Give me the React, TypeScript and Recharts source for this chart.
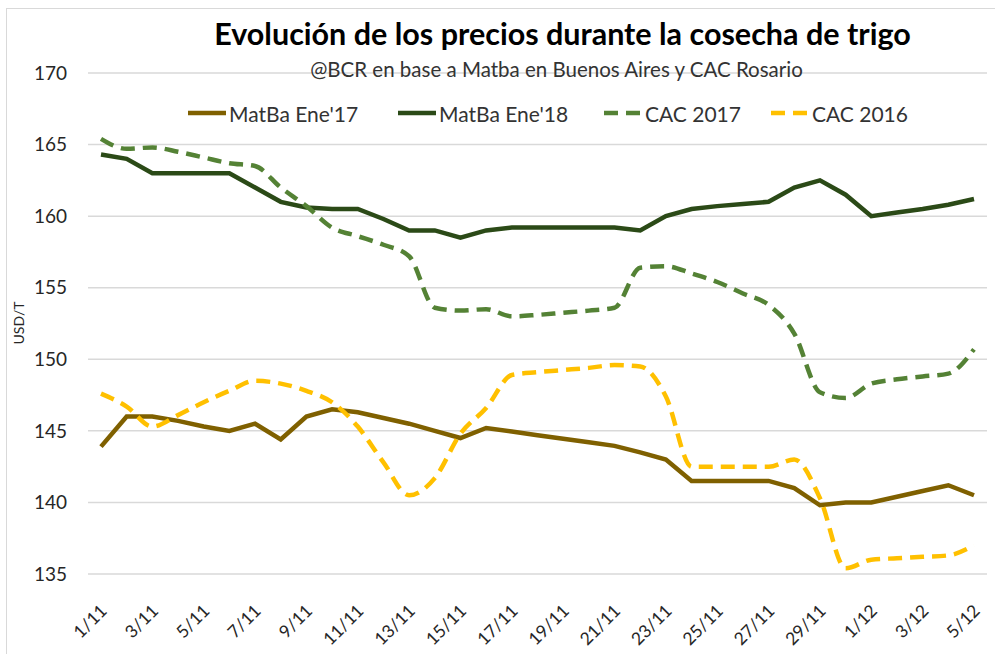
import React from 'react';
import { LineChart, Line, XAxis, YAxis, CartesianGrid } from 'recharts';

// Daily categories 1/11 .. 5/12
const dates = [
  '1/11', '2/11', '3/11', '4/11', '5/11', '6/11', '7/11', '8/11', '9/11', '10/11',
  '11/11', '12/11', '13/11', '14/11', '15/11', '16/11', '17/11', '18/11', '19/11', '20/11',
  '21/11', '22/11', '23/11', '24/11', '25/11', '26/11', '27/11', '28/11', '29/11', '30/11',
  '1/12', '2/12', '3/12', '4/12', '5/12',
];

const matbaEne17 = [
  143.9, 146.0, 146.0, 145.7, 145.3, 145.0, 145.5, 144.4, 146.0, 146.5,
  146.3, 145.9, 145.5, 145.0, 144.5, 145.2, 144.95, 144.7, 144.45, 144.2,
  143.95, 143.5, 143.0, 141.5, 141.5, 141.5, 141.5, 141.0, 139.8, 140.0,
  140.0, 140.4, 140.8, 141.2, 140.5,
];

const matbaEne18 = [
  164.3, 164.0, 163.0, 163.0, 163.0, 163.0, 162.0, 161.0, 160.6, 160.5,
  160.5, 159.8, 159.0, 159.0, 158.5, 159.0, 159.2, 159.2, 159.2, 159.2,
  159.2, 159.0, 160.0, 160.5, 160.7, 160.85, 161.0, 162.0, 162.5, 161.5,
  160.0, 160.25, 160.5, 160.8, 161.2,
];

const cac2017 = [
  165.4, 164.7, 164.8, 164.5, 164.1, 163.7, 163.5, 162.0, 160.7, 159.2,
  158.6, 158.0, 157.2, 153.6, 153.4, 153.5, 153.0, 153.1, 153.25, 153.4,
  153.6, 156.4, 156.5, 156.0, 155.4, 154.6, 153.8, 151.8, 147.7, 147.3,
  148.3, 148.6, 148.8, 149.0, 150.7,
];

const cac2016 = [
  147.6, 146.7, 145.3, 146.1, 147.0, 147.8, 148.5, 148.3, 147.8, 147.0,
  145.3, 142.8, 140.5, 141.7, 144.8, 146.6, 148.9, 149.1, 149.25, 149.4,
  149.6, 149.5, 147.4, 142.5, 142.5, 142.5, 142.5, 143.0, 140.3, 135.4,
  136.0, 136.1, 136.2, 136.3, 137.0,
];

const yTicks = [135, 140, 145, 150, 155, 160, 165, 170];
const xTicks = dates.filter((_, i) => i % 2 === 0);

const series = [
  { key: 'ene17', name: "MatBa Ene'17", color: '#7f6000', dashed: false },
  { key: 'ene18', name: "MatBa Ene'18", color: '#2b4a17', dashed: false },
  { key: 'cac17', name: 'CAC 2017', color: '#548235', dashed: true },
  { key: 'cac16', name: 'CAC 2016', color: '#ffc000', dashed: true },
];

const data = dates.map((d, i) => ({
  date: d,
  ene17: matbaEne17[i],
  ene18: matbaEne18[i],
  cac17: cac2017[i],
  cac16: cac2016[i],
}));

const FONT = 'Lato, "Open Sans", sans-serif';

function DateTick(props: any) {
  const { x, y, payload } = props;
  return (
    <g transform={`translate(${x + 7},${y + 30})`}>
      <text
        transform="rotate(-45)"
        textAnchor="end"
        fontSize={17.5}
        fill="#262626"
        fontFamily={FONT}
      >
        {payload.value}
      </text>
    </g>
  );
}

function LegendRow() {
  const positions = [187, 397, 603, 770];
  return (
    <div style={{ position: 'absolute', top: 99, left: 0, width: 995, height: 28 }}>
      {series.map((s, i) => (
        <div
          key={s.key}
          style={{ position: 'absolute', left: positions[i], top: 0, display: 'flex', alignItems: 'center', height: 28 }}
        >
          <svg width={40} height={10}>
            <line
              x1={1}
              y1={5}
              x2={39}
              y2={5}
              stroke={s.color}
              strokeWidth={4.5}
              strokeDasharray={s.dashed ? '14 8' : undefined}
            />
          </svg>
          <span style={{ fontSize: 21, color: '#333', marginLeft: 2, whiteSpace: 'nowrap' }}>{s.name}</span>
        </div>
      ))}
    </div>
  );
}

export default function App() {
  return (
    <div
      style={{
        position: 'absolute',
        left: 0,
        top: 0,
        width: 995,
        height: 654,
        background: '#fff',
        fontFamily: FONT,
        overflow: 'hidden',
      }}
    >
      <div
        style={{
          position: 'absolute',
          left: 6,
          top: 8,
          width: 1000,
          height: 700,
          border: '1px solid #d9d9d9',
        }}
      />
      <LineChart
        width={995}
        height={654}
        data={data}
        margin={{ top: 73, right: 8, bottom: 10, left: 28 }}
      >
        <CartesianGrid vertical={false} stroke="#d9d9d9" strokeWidth={1.5} />
        <XAxis
          dataKey="date"
          ticks={xTicks}
          interval={0}
          tick={<DateTick />}
          tickLine={false}
          axisLine={false}
          height={70}
          padding={{ left: 13, right: 13 }}
        />
        <YAxis
          domain={[135, 170]}
          ticks={yTicks}
          width={60}
          tickLine={false}
          axisLine={false}
          tickMargin={15}
          tick={{ fontSize: 19, fill: '#262626', fontFamily: FONT }}
        />
        {series.map((s) => (
          <Line
            key={s.key}
            dataKey={s.key}
            name={s.name}
            type={s.dashed ? 'monotone' : 'linear'}
            stroke={s.color}
            strokeWidth={4.5}
            strokeDasharray={s.dashed ? '14 8' : undefined}
            dot={false}
            activeDot={false}
            isAnimationActive={false}
          />
        ))}
      </LineChart>
      <div
        style={{
          position: 'absolute',
          left: 0,
          width: 995,
          top: 15,
          textAlign: 'center',
          paddingLeft: 130,
          boxSizing: 'border-box',
          fontSize: 30.5,
          fontWeight: 700,
          color: '#000',
          whiteSpace: 'nowrap',
        }}
      >
        Evolución de los precios durante la cosecha de trigo
      </div>
      <div
        style={{
          position: 'absolute',
          left: 0,
          width: 995,
          top: 57,
          textAlign: 'center',
          paddingLeft: 118,
          boxSizing: 'border-box',
          fontSize: 20.5,
          color: '#333',
          whiteSpace: 'nowrap',
        }}
      >
        @BCR en base a Matba en Buenos Aires y CAC Rosario
      </div>
      <LegendRow />
      <div
        style={{
          position: 'absolute',
          left: 18,
          top: 323,
          transform: 'translate(-50%, -50%) rotate(-90deg)',
          fontSize: 14,
          color: '#262626',
          whiteSpace: 'nowrap',
        }}
      >
        USD/T
      </div>
    </div>
  );
}
